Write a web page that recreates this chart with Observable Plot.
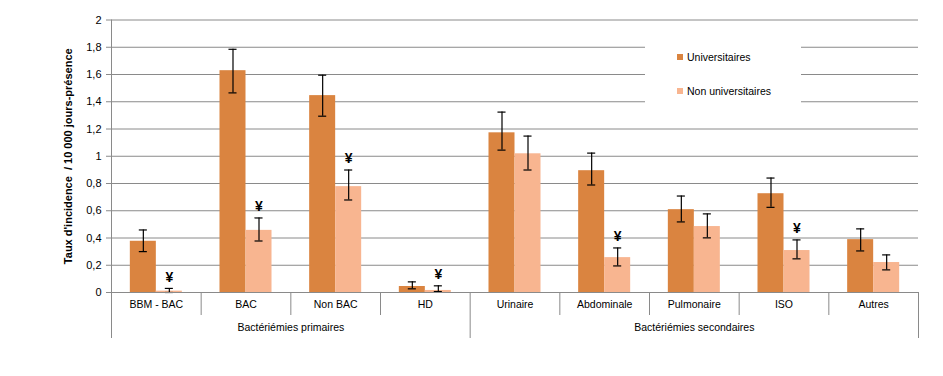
<!DOCTYPE html>
<html><head><meta charset="utf-8">
<script src="https://cdn.jsdelivr.net/npm/d3@7"></script>
<script src="https://cdn.jsdelivr.net/npm/@observablehq/plot@0.6"></script>
<style>
body{margin:0;background:#fff;}
#wrap{position:relative;width:943px;height:376px;font-family:"Liberation Sans",Arial,sans-serif;}
#wrap svg{position:absolute;left:0;top:0;overflow:visible}
#wrap svg [aria-label="y-axis label"] text{font-weight:bold;font-size:11px}
#legend{position:absolute;left:645px;top:42px;width:156px;height:62px;background:#fff;font-size:10.5px;color:#000}
.item{position:absolute;left:32px;display:flex;align-items:center;height:12px;line-height:12px}
.sw{width:6px;height:6px;margin-right:4px}
</style></head><body><div id="wrap"></div>
<script>
const categories = ["BBM - BAC","BAC","Non BAC","HD","Urinaire","Abdominale","Pulmonaire","ISO","Autres"];
const seriesNames = ["Universitaires","Non universitaires"];
const univ      = [0.376,1.628,1.445,0.044,1.172,0.894,0.608,0.725,0.388];
const univLow   = [0.300,1.465,1.294,0.027,1.045,0.789,0.518,0.625,0.305];
const univHigh  = [0.459,1.785,1.595,0.078,1.324,1.023,0.708,0.840,0.467];
const nonUniv     = [0.010,0.456,0.777,0.015,1.018,0.256,0.484,0.308,0.220];
const nonUnivLow  = [0.000,0.378,0.679,0.007,0.899,0.195,0.401,0.247,0.166];
const nonUnivHigh = [0.030,0.547,0.899,0.049,1.148,0.327,0.577,0.386,0.276];
const significant = [true,true,true,true,false,true,false,true,false];
const groupLabels = ["Bactériémies primaires","Bactériémies secondaires"];
const groupFirst  = [0,4];
const groupLast   = [3,8];
const yTicks = [0,0.2,0.4,0.6,0.8,1,1.2,1.4,1.6,1.8,2];
const yTitle = "Taux d'incidence  / 10 000 jours-présence";

const colors = ["#DA8440","#F8B590"];
const barW = 0.29, capW = 0.045;
const rows = categories.map((c,i)=>({i,c,u:univ[i],uLo:univLow[i],uHi:univHigh[i],n:nonUniv[i],nLo:nonUnivLow[i],nHi:nonUnivHigh[i],sig:significant[i]}));
const groups = groupLabels.map((g,k)=>({g, mid:(groupFirst[k]+groupLast[k])/2, end:groupLast[k]+0.5}));
const inner = d3.range(1,categories.length).map(i=>i-0.5).filter(b=>!groups.some(g=>g.end===b));
const grid = "#8a8a8a";

const plot = Plot.plot({
  width:943, height:376,
  marginLeft:111, marginRight:25, marginTop:19.5, marginBottom:84,
  style:{fontFamily:"Liberation Sans, Arial, sans-serif", fontSize:"10.5px", color:"#000", background:"transparent"},
  x:{domain:[-0.5,categories.length-0.5], axis:null},
  y:{domain:[0,2]},
  marks:[
    Plot.ruleY(yTicks.filter(t=>t>0), {stroke:grid, strokeWidth:1}),
    Plot.axisY({ticks:yTicks, tickFormat:d=>String(d).replace(".",","), tickSize:5, tickPadding:5, stroke:grid, fontSize:11,
      label:yTitle, labelAnchor:"center", labelArrow:"none", labelOffset:47}),
    Plot.rectY(rows,{x1:d=>d.i-barW,x2:d=>d.i,y:"u",fill:colors[0]}),
    Plot.rectY(rows,{x1:d=>d.i,x2:d=>d.i+barW,y:"n",fill:colors[1]}),
    Plot.ruleX(rows,{x:d=>d.i-barW/2,y1:"uLo",y2:"uHi",stroke:"#000",strokeWidth:1.2}),
    Plot.ruleY(rows,{y:"uLo",x1:d=>d.i-barW/2-capW,x2:d=>d.i-barW/2+capW,stroke:"#000",strokeWidth:1.2}),
    Plot.ruleY(rows,{y:"uHi",x1:d=>d.i-barW/2-capW,x2:d=>d.i-barW/2+capW,stroke:"#000",strokeWidth:1.2}),
    Plot.ruleX(rows,{x:d=>d.i+barW/2,y1:"nLo",y2:"nHi",stroke:"#000",strokeWidth:1.2}),
    Plot.ruleY(rows,{y:"nLo",x1:d=>d.i+barW/2-capW,x2:d=>d.i+barW/2+capW,stroke:"#000",strokeWidth:1.2}),
    Plot.ruleY(rows,{y:"nHi",x1:d=>d.i+barW/2-capW,x2:d=>d.i+barW/2+capW,stroke:"#000",strokeWidth:1.2}),
    Plot.text(rows.filter(d=>d.sig),{x:d=>d.i+barW/2,y:"nHi",text:()=>"¥",dy:-11,fontWeight:"bold",fontSize:14,fill:"#000"}),
    Plot.ruleY([0],{stroke:grid}),
    Plot.ruleX([-0.5],{stroke:grid,insetBottom:-46}),
    Plot.ruleX(inner,{x:d=>d,y1:0,y2:0,insetBottom:-23,stroke:grid}),
    Plot.ruleX(groups,{x:"end",y1:0,y2:0,insetBottom:-46,stroke:grid}),
    Plot.text(rows,{x:"i",text:"c",frameAnchor:"bottom",dy:15,fill:"#000"}),
    Plot.text(groups,{x:"mid",text:"g",frameAnchor:"bottom",dy:38,fill:"#000"})
  ]
});
const wrap = document.getElementById("wrap");
wrap.appendChild(plot);
const leg = document.createElement("div");
leg.id = "legend";
seriesNames.forEach((s,k)=>{
  const it = document.createElement("div");
  it.className = "item";
  it.style.top = (k===0?9:42.5)+"px";
  it.innerHTML = `<span class="sw" style="background:${colors[k]}"></span><span>${s}</span>`;
  leg.appendChild(it);
});
wrap.appendChild(leg);
</script></body></html>
